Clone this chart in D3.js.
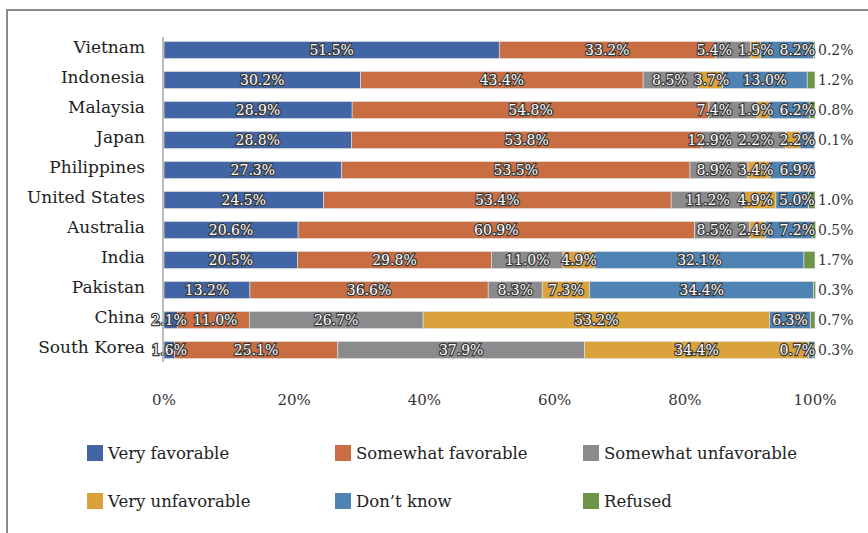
<!DOCTYPE html>
<html>
<head>
<meta charset="utf-8">
<script src="https://cdn.jsdelivr.net/npm/d3@7"></script>
<style>
  html, body { margin: 0; padding: 0; background: #fff; }
  svg { display: block; }
  text { font-family: "DejaVu Serif", serif; }
</style>
</head>
<body>
<script>
// survey answers per country, in percent
var countries = ['Vietnam', 'Indonesia', 'Malaysia', 'Japan', 'Philippines', 'United States',
  'Australia', 'India', 'Pakistan', 'China', 'South Korea'];
var answers = ['Very favorable', 'Somewhat favorable', 'Somewhat unfavorable',
  'Very unfavorable', 'Don\u2019t know', 'Refused'];
var colors = ['#4165a5', '#c96e42', '#8b8b8e', '#d9a23b', '#4e83b4', '#6e944a'];

var veryFav     = [51.5, 30.2, 28.9, 28.8, 27.3, 24.5, 20.6, 20.5, 13.2, 2.1, 1.6];
var someFav     = [33.2, 43.4, 54.8, 53.8, 53.5, 53.4, 60.9, 29.8, 36.6, 11.0, 25.1];
var someUnfav   = [5.4, 8.5, 7.4, 12.9, 8.9, 11.2, 8.5, 11.0, 8.3, 26.7, 37.9];
var veryUnfav   = [1.5, 3.7, 1.9, 2.2, 3.4, 4.9, 2.4, 4.9, 7.3, 53.2, 34.4];
var dontKnow    = [8.2, 13.0, 6.2, 2.2, 6.9, 5.0, 7.2, 32.1, 34.4, 6.3, 0.7];
var refused     = [0.2, 1.2, 0.8, 0.1, 0, 1.0, 0.5, 1.7, 0.3, 0.7, 0.3];
var xTicks = [0, 20, 40, 60, 80, 100];

var series = [veryFav, someFav, someUnfav, veryUnfav, dontKnow, refused];

var W = 868, H = 533;
var svg = d3.select('body').append('svg').attr('width', W).attr('height', H);

// frame
svg.append('path')
  .attr('d', 'M7,' + (H + 2) + 'V10H' + (W + 2))
  .attr('fill', 'none').attr('stroke', '#8a8a8a').attr('stroke-width', 2);

var x = d3.scaleLinear().domain([0, 100]).range([164, 815]);
var y = d3.scaleBand().domain(countries).range([35, 365]).paddingInner(0.43).paddingOuter(0.215);

var rows = countries.map(function (c, i) {
  var acc = 0;
  return series.map(function (s, k) {
    var seg = {country: c, k: k, v: s[i], x0: acc, x1: acc + s[i]};
    acc += s[i];
    return seg;
  });
});

var g = svg.append('g');
rows.forEach(function (row) {
  g.selectAll(null).data(row.filter(function (d) { return d.v > 0; })).enter().append('rect')
    .attr('x', function (d) { return x(d.x0); })
    .attr('y', function (d) { return y(d.country); })
    .attr('width', function (d) { return x(d.x1) - x(d.x0); })
    .attr('height', y.bandwidth())
    .attr('fill', function (d) { return colors[d.k]; })
    .attr('stroke', '#e6e6e6').attr('stroke-width', 0.6);
});

// value axis line
svg.append('line')
  .attr('x1', x(0) - 1).attr('x2', x(0) - 1)
  .attr('y1', 37).attr('y2', 362)
  .attr('stroke', '#a6a6a6').attr('stroke-width', 1.5);

// labels inside bars, spread apart where they collide, kept left of the bar end
rows.forEach(function (row) {
  var segs = row.filter(function (d) { return d.k < 5; });
  var labels = segs.map(function (d) {
    var t = g.append('text')
      .attr('y', y(d.country) + y.bandwidth() / 2)
      .attr('dy', '0.36em')
      .attr('text-anchor', 'middle')
      .attr('font-size', 14)
      .attr('fill', '#fff')
      .attr('stroke', '#3a3a3a').attr('stroke-width', 2.4)
      .attr('paint-order', 'stroke')
      .text(d.v.toFixed(1) + '%');
    return {node: t, c: (x(d.x0) + x(d.x1)) / 2, w: t.node().getComputedTextLength() + 6};
  });
  var right = x(100) + 3;
  for (var it = 0; it < 300; it++) {
    var moved = false;
    for (var i = 0; i < labels.length - 1; i++) {
      var a = labels[i], b = labels[i + 1];
      var over = (a.c + a.w / 2) - (b.c - b.w / 2);
      if (over > 0.1) {
        a.c -= over / 2; b.c += over / 2; moved = true;
      }
    }
    var last = labels[labels.length - 1];
    if (last.c + last.w / 2 > right + 0.1) {
      last.c = right - last.w / 2; moved = true;
    }
    if (!moved) break;
  }
  labels.forEach(function (l) { l.node.attr('x', l.c); });

  var r = row[5];
  if (r.v > 0) {
    g.append('text')
      .attr('x', x(100) + 3)
      .attr('y', y(r.country) + y.bandwidth() / 2)
      .attr('dy', '0.36em')
      .attr('font-size', 14)
      .attr('fill', '#333')
      .text(r.v.toFixed(1) + '%');
  }
});

// country labels
svg.selectAll('.cat').data(countries).enter().append('text')
  .attr('x', 145)
  .attr('y', function (d) { return y(d) + y.bandwidth() / 2; })
  .attr('dy', '0.2em')
  .attr('text-anchor', 'end')
  .attr('font-size', 17)
  .attr('fill', '#222')
  .text(function (d) { return d; });

// x tick labels
svg.selectAll('.tick').data(xTicks).enter().append('text')
  .attr('x', function (d) { return x(d); })
  .attr('y', 405)
  .attr('text-anchor', 'middle')
  .attr('font-size', 15)
  .attr('fill', '#333')
  .text(function (d) { return d + '%'; });

// legend
var legX = [87, 335, 583], legY = [453, 501];
var leg = svg.selectAll('.leg').data(answers).enter().append('g')
  .attr('transform', function (d, i) {
    return 'translate(' + legX[i % 3] + ',' + legY[Math.floor(i / 3)] + ')';
  });
leg.append('rect').attr('x', 0).attr('y', -8).attr('width', 16).attr('height', 16)
  .attr('fill', function (d, i) { return colors[i]; });
leg.append('text').attr('x', 21).attr('dy', '0.35em')
  .attr('font-size', 16.5).attr('fill', '#222')
  .text(function (d) { return d; });
</script>
</body>
</html>
